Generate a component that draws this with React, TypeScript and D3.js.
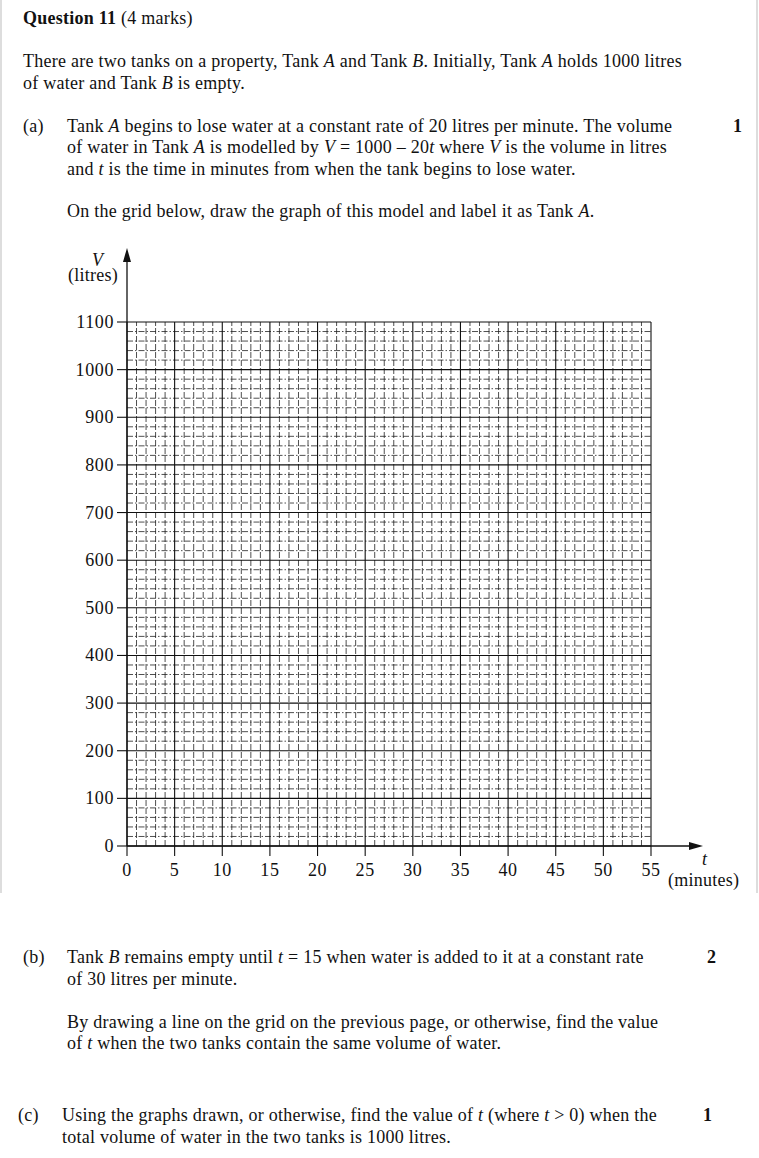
import React from 'react';
import * as d3 from 'd3';

const xMax = 55;
const yMax = 1100;
const xTicks = [0, 5, 10, 15, 20, 25, 30, 35, 40, 45, 50, 55];
const yTicks = [0, 100, 200, 300, 400, 500, 600, 700, 800, 900, 1000, 1100];
const xMinor = d3.range(0, xMax + 1, 1);
const yMinor = d3.range(0, yMax + 1, 20);

const font = '"Liberation Serif", "Times New Roman", serif';

export default function App() {
  const x = d3.scaleLinear().domain([0, xMax]).range([127, 651]);
  const y = d3.scaleLinear().domain([0, yMax]).range([846, 322]);
  const it = { fontStyle: 'italic' as const };

  return (
    <svg width={759} height={1158} style={{ position: 'absolute', left: 0, top: 0, background: '#fff' }}
      fontFamily={font} fontSize={18} letterSpacing={0.25} fill="#111">
      <line x1={1} x2={1} y1={0} y2={893} stroke="#ddd" strokeWidth={2} />
      <line x1={757} x2={757} y1={0} y2={893} stroke="#ddd" strokeWidth={2} />

      <text x={23} y={24}><tspan fontWeight="bold">Question 11</tspan> (4 marks)</text>
      <text x={23} y={67}>There are two tanks on a property, Tank <tspan {...it}>A</tspan> and Tank <tspan {...it}>B</tspan>. Initially, Tank <tspan {...it}>A</tspan> holds 1000 litres</text>
      <text x={23} y={89}>of water and Tank <tspan {...it}>B</tspan> is empty.</text>

      <text x={23} y={132}>(a)</text>
      <text x={67} y={132}>Tank <tspan {...it}>A</tspan> begins to lose water at a constant rate of 20 litres per minute. The volume</text>
      <text x={67} y={153}>of water in Tank <tspan {...it}>A</tspan> is modelled by  <tspan {...it}>V</tspan> = 1000 – 20<tspan {...it}>t</tspan>  where <tspan {...it}>V</tspan> is the volume in litres</text>
      <text x={67} y={175}>and <tspan {...it}>t</tspan> is the time in minutes from when the tank begins to lose water.</text>
      <text x={733} y={132} fontWeight="bold">1</text>
      <text x={67} y={217}>On the grid below, draw the graph of this model and label it as Tank <tspan {...it}>A</tspan>.</text>

      {/* minor grid */}
      {xMinor.filter(v => v % 5 !== 0).map(v => (
        <line key={'xm' + v} x1={x(v)} x2={x(v)} y1={y(0)} y2={y(yMax)} stroke="#222" strokeWidth={0.8} strokeDasharray="6,2" />
      ))}
      {yMinor.filter(v => v % 100 !== 0).map(v => (
        <line key={'ym' + v} x1={x(0)} x2={x(xMax)} y1={y(v)} y2={y(v)} stroke="#222" strokeWidth={0.8} strokeDasharray="6,2,1.5,2" />
      ))}
      {/* major grid */}
      {xTicks.map(v => (
        <line key={'xM' + v} x1={x(v)} x2={x(v)} y1={y(0)} y2={y(yMax)} stroke="#111" strokeWidth={1.1} />
      ))}
      {yTicks.map(v => (
        <line key={'yM' + v} x1={x(0)} x2={x(xMax)} y1={y(v)} y2={y(v)} stroke="#111" strokeWidth={1.1} />
      ))}

      {/* axes */}
      <line x1={x(0)} x2={x(0)} y1={y(0)} y2={256} stroke="#111" strokeWidth={1.3} />
      <path d={`M${x(0)},248 L${x(0) - 4},262 L${x(0) + 4},262 Z`} fill="#111" />
      <line x1={x(0)} x2={694} y1={y(0)} y2={y(0)} stroke="#111" strokeWidth={1.3} />
      <path d={`M703,${y(0)} L689,${y(0) - 4} L689,${y(0) + 4} Z`} fill="#111" />
      {yTicks.map(v => (
        <g key={'yt' + v}>
          <line x1={x(0) - 10} x2={x(0)} y1={y(v)} y2={y(v)} stroke="#111" strokeWidth={1.1} />
          <text x={x(0) - 13} y={y(v) + 6} textAnchor="end" letterSpacing={0.6}>{v}</text>
        </g>
      ))}
      {xTicks.map(v => (
        <g key={'xt' + v}>
          <line x1={x(v)} x2={x(v)} y1={y(0)} y2={y(0) + 10} stroke="#111" strokeWidth={1.1} />
          <text x={x(v)} y={y(0) + 30} textAnchor="middle" letterSpacing={0.6}>{v}</text>
        </g>
      ))}
      <text x={92} y={266} {...it}>V</text>
      <text x={68} y={281}>(litres)</text>
      <text x={702} y={865} {...it}>t</text>
      <text x={668} y={886}>(minutes)</text>

      <text x={23} y={963}>(b)</text>
      <text x={67} y={963}>Tank <tspan {...it}>B</tspan> remains empty until <tspan {...it}>t</tspan> = 15 when water is added to it at a constant rate</text>
      <text x={67} y={985}>of 30 litres per minute.</text>
      <text x={707} y={963} fontWeight="bold">2</text>
      <text x={67} y={1028}>By drawing a line on the grid on the previous page, or otherwise, find the value</text>
      <text x={67} y={1049}>of <tspan {...it}>t</tspan> when the two tanks contain the same volume of water.</text>

      <text x={18} y={1121}>(c)</text>
      <text x={62} y={1121}>Using the graphs drawn, or otherwise, find the value of <tspan {...it}>t</tspan> (where <tspan {...it}>t</tspan> &gt; 0) when the</text>
      <text x={62} y={1143}>total volume of water in the two tanks is 1000 litres.</text>
      <text x={703} y={1121} fontWeight="bold">1</text>
    </svg>
  );
}
